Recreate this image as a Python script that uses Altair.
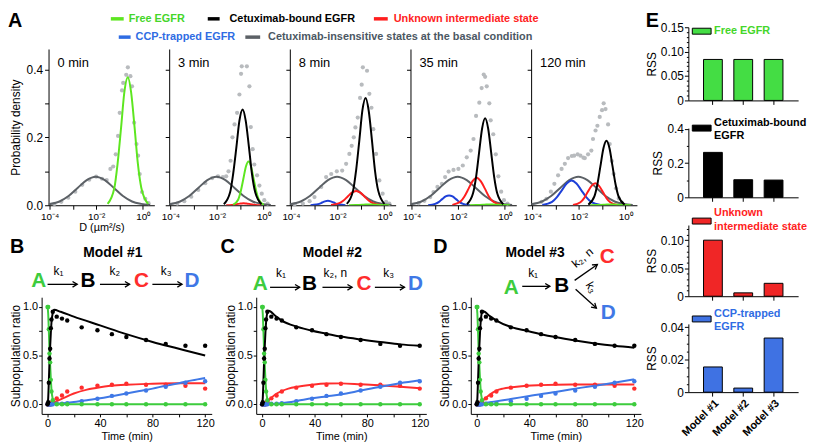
import altair as alt
import pandas as pd

FONT = "Liberation Sans"
DUMMY = pd.DataFrame({"d": [0]})

# ---------------- colours ----------------
A_COL = {"grey": "#5c6166", "blue": "#1e40d8", "red": "#ff1e1e", "green": "#5de620", "black": "#000000"}
PT_GREY = "#b8bbbe"
K_COL = {"green": "#3dcc3d", "black": "#000000", "red": "#ff2d2d", "blue": "#3f78e6"}
TXT_GREEN = "#45d62a"
TXT_RED = "#ff2222"
TXT_BLUE = "#2f6ce3"
TXT_GREY = "#4b5763"
E_GREEN = "#44dd44"
E_RED = "#f02626"
E_BLUE = "#3f72e3"

# ---------------- Panel A data (x = log10 D, y = probability density) ----------------
A_TITLES = ["0 min", "3 min", "8 min", "35 min", "120 min"]

GREY_X = [-4.05, -3.58, -3.19, -2.80, -2.41, -2.02, -1.63, -1.24, -0.85, -0.46, -0.07, 0.32]
GREY_Y = [0.003, 0.011, 0.027, 0.051, 0.074, 0.084, 0.074, 0.051, 0.027, 0.011, 0.004, 0.001]

G0_X = [-1.51, -1.22, -1.08, -0.93, -0.79, -0.64, -0.50, -0.35, -0.21, -0.06, 0.23]
G0_Y = [0.004, 0.051, 0.123, 0.229, 0.333, 0.377, 0.333, 0.229, 0.123, 0.051, 0.004]
GFLAT_Y = [0.0, 0.0005, 0.001, 0.0015, 0.002, 0.002, 0.002, 0.0015, 0.001, 0.0005, 0.0]

B1_X = [-1.70, -1.43, -1.30, -1.16, -1.03, -0.89, -0.76, -0.62, -0.49, -0.35, -0.08]
B1_Y = [0.003, 0.038, 0.092, 0.171, 0.249, 0.282, 0.249, 0.171, 0.092, 0.038, 0.003]
G1_X = [-1.30, -1.08, -0.97, -0.86, -0.75, -0.64, -0.53, -0.42, -0.31, -0.20, 0.02]
G1_Y = [0.001, 0.017, 0.042, 0.078, 0.114, 0.129, 0.114, 0.078, 0.042, 0.017, 0.001]
R1_X = [-1.60, -1.35, -1.23, -1.10, -0.98, -0.85, -0.73, -0.60, -0.48, -0.35, -0.10]
R1_Y = [0.0, 0.001, 0.002, 0.004, 0.005, 0.006, 0.005, 0.004, 0.002, 0.001, 0.0]

B2_X = [-1.60, -1.33, -1.20, -1.06, -0.93, -0.79, -0.66, -0.52, -0.39, -0.25, 0.02]
B2_Y = [0.004, 0.043, 0.103, 0.192, 0.279, 0.316, 0.279, 0.192, 0.103, 0.043, 0.004]
R2_X = [-2.28, -1.92, -1.74, -1.56, -1.38, -1.20, -1.02, -0.84, -0.66, -0.48, -0.12]
R2_Y = [0.001, 0.006, 0.014, 0.026, 0.037, 0.042, 0.037, 0.026, 0.014, 0.006, 0.001]
U2_X = [-3.16, -2.91, -2.79, -2.66, -2.54, -2.41, -2.29, -2.16, -2.04, -1.91, -1.66]
U2_Y = [0.0, 0.002, 0.004, 0.008, 0.0115, 0.013, 0.0115, 0.008, 0.004, 0.002, 0.0]

B3_X = [-1.62, -1.36, -1.23, -1.10, -0.97, -0.84, -0.71, -0.58, -0.45, -0.32, -0.06]
B3_Y = [0.003, 0.035, 0.083, 0.155, 0.226, 0.256, 0.226, 0.155, 0.083, 0.035, 0.003]
R3_X = [-2.25, -1.90, -1.73, -1.55, -1.38, -1.20, -1.03, -0.85, -0.68, -0.50, -0.15]
R3_Y = [0.001, 0.011, 0.026, 0.049, 0.071, 0.081, 0.071, 0.049, 0.026, 0.011, 0.001]
U3_X = [-3.29, -2.99, -2.84, -2.69, -2.54, -2.39, -2.24, -2.09, -1.94, -1.79, -1.49]
U3_Y = [0.0, 0.004, 0.009, 0.018, 0.026, 0.029, 0.026, 0.018, 0.009, 0.004, 0.0]

B4_X = [-1.59, -1.33, -1.20, -1.07, -0.94, -0.81, -0.68, -0.55, -0.42, -0.29, -0.03]
B4_Y = [0.002, 0.026, 0.062, 0.115, 0.168, 0.190, 0.168, 0.115, 0.062, 0.026, 0.002]
R4_X = [-2.25, -1.93, -1.77, -1.61, -1.45, -1.29, -1.13, -0.97, -0.81, -0.65, -0.33]
R4_Y = [0.001, 0.009, 0.021, 0.040, 0.057, 0.065, 0.057, 0.040, 0.021, 0.009, 0.001]
U4_X = [-3.57, -3.15, -2.94, -2.73, -2.52, -2.31, -2.10, -1.89, -1.68, -1.47, -1.05]
U4_Y = [0.001, 0.010, 0.024, 0.044, 0.064, 0.073, 0.064, 0.044, 0.024, 0.010, 0.001]

A_CURVES = [
    {"grey": (GREY_X, GREY_Y), "green": (G0_X, G0_Y)},
    {"grey": (GREY_X, GREY_Y), "red": (R1_X, R1_Y), "green": (G1_X, G1_Y), "black": (B1_X, B1_Y)},
    {"grey": (GREY_X, GREY_Y), "blue": (U2_X, U2_Y), "red": (R2_X, R2_Y), "green": (G0_X, GFLAT_Y), "black": (B2_X, B2_Y)},
    {"grey": (GREY_X, GREY_Y), "blue": (U3_X, U3_Y), "red": (R3_X, R3_Y), "green": (G0_X, GFLAT_Y), "black": (B3_X, B3_Y)},
    {"grey": (GREY_X, GREY_Y), "blue": (U4_X, U4_Y), "red": (R4_X, R4_Y), "green": (G0_X, GFLAT_Y), "black": (B4_X, B4_Y)},
]

P0_X = [-3.8, -3.5, -3.2, -2.9, -2.6, -2.3, -2.0, -1.75, -1.55, -1.39, -1.27, -1.16, -1.06, -0.99, -0.89, -0.84, -0.71, -0.64, -0.53, -0.46, -0.37, -0.27, -0.2, -0.13, -0.03, 0.11, 0.25]
P0_Y = [0.004, 0.010, 0.022, 0.040, 0.060, 0.075, 0.084, 0.078, 0.074, 0.107, 0.114, 0.15, 0.204, 0.272, 0.338, 0.36, 0.384, 0.406, 0.38, 0.35, 0.243, 0.18, 0.146, 0.092, 0.039, 0.019, 0.006]
P1_X = [-3.7, -3.4, -3.1, -2.8, -2.5, -2.2, -1.95, -1.74, -1.6, -1.5, -1.41, -1.33, -1.24, -1.13, -1.03, -0.96, -0.93, -0.71, -0.6, -0.54, -0.46, -0.39, -0.27, -0.17, -0.07, 0.04, 0.18]
P1_Y = [0.005, 0.012, 0.025, 0.045, 0.065, 0.08, 0.085, 0.083, 0.085, 0.1, 0.131, 0.2, 0.238, 0.272, 0.326, 0.387, 0.409, 0.409, 0.35, 0.23, 0.165, 0.12, 0.088, 0.058, 0.034, 0.015, 0.005]
P2_X = [-3.84, -3.49, -3.2, -2.99, -2.7, -2.49, -2.27, -2.03, -1.8, -1.63, -1.49, -1.39, -1.3, -1.23, -1.13, -1.03, -0.96, -0.91, -0.73, -0.63, -0.54, -0.46, -0.34, -0.2, -0.06, 0.09, 0.23]
P2_Y = [0.003, 0.005, 0.012, 0.024, 0.054, 0.083, 0.092, 0.1, 0.102, 0.122, 0.151, 0.175, 0.2, 0.229, 0.258, 0.316, 0.355, 0.406, 0.396, 0.328, 0.287, 0.224, 0.151, 0.073, 0.034, 0.01, 0.005]
P3_X = [-3.7, -3.45, -3.2, -3.06, -2.89, -2.7, -2.56, -2.41, -2.2, -1.99, -1.8, -1.63, -1.46, -1.34, -1.23, -1.09, -0.99, -0.9, -0.84, -0.77, -0.66, -0.6, -0.49, -0.38, -0.27, -0.15, -0.03, 0.12]
P3_Y = [0.006, 0.013, 0.024, 0.039, 0.054, 0.063, 0.083, 0.099, 0.104, 0.107, 0.117, 0.141, 0.161, 0.195, 0.263, 0.302, 0.345, 0.385, 0.378, 0.35, 0.3, 0.25, 0.209, 0.15, 0.085, 0.04, 0.015, 0.005]
P4_X = [-3.6, -3.39, -3.2, -3.05, -2.89, -2.74, -2.6, -2.46, -2.3, -2.2, -2.05, -1.93, -1.8, -1.74, -1.6, -1.46, -1.39, -1.28, -1.2, -1.1, -1.0, -0.93, -0.85, -0.74, -0.67, -0.58, -0.5, -0.4, -0.28, -0.15]
P4_Y = [0.01, 0.019, 0.04, 0.063, 0.088, 0.107, 0.122, 0.139, 0.145, 0.146, 0.15, 0.146, 0.14, 0.139, 0.15, 0.161, 0.195, 0.22, 0.234, 0.26, 0.28, 0.3, 0.283, 0.238, 0.18, 0.13, 0.092, 0.05, 0.02, 0.008]
A_PTS = [(P0_X, P0_Y), (P1_X, P1_Y), (P2_X, P2_Y), (P3_X, P3_Y), (P4_X, P4_Y)]

# ---------------- Panels B-D data ----------------
T_PTS = [0, 0.5, 1, 1.5, 2, 2.5, 3, 4, 7, 11, 15, 26, 38, 49, 60, 75, 90, 105, 120]
GREEN_PTS = [1.0, 1.0, 0.77, 0.52, 0.43, 0.25, 0.13, 0.04, 0.0, 0.0, 0, 0, 0, 0, 0, 0, 0, 0, 0]
BLACK_PTS = [0.0, 0.02, 0.22, 0.47, 0.57, 0.78, 0.87, 0.95, 0.90, 0.88, 0.86, 0.79, 0.76, 0.72, 0.69, 0.66, 0.62, 0.60, 0.60]
RED_PTS = [0, 0, 0, 0, 0, 0, 0.01, 0.03, 0.06, 0.09, 0.13, 0.17, 0.19, 0.20, 0.21, 0.20, 0.20, 0.19, 0.16]
BLUE_PTS = [0, 0, 0, 0, 0, 0, 0, 0, 0.005, 0.005, 0.01, 0.03, 0.055, 0.085, 0.11, 0.14, 0.18, 0.22, 0.235]

GREEN_FIT_T = [0, 0.5, 1, 1.5, 2, 2.5, 3, 4, 5, 8, 120]
GREEN_FIT_Y = [1.0, 0.93, 0.75, 0.55, 0.40, 0.26, 0.15, 0.05, 0.015, 0.0, 0.0]

M1_BLACK_T = [0, 0.5, 1, 1.5, 2, 2.5, 3, 4, 5, 10, 20, 40, 60, 80, 100, 120]
M1_BLACK_Y = [0, 0.06, 0.24, 0.44, 0.59, 0.73, 0.84, 0.94, 0.97, 0.95, 0.90, 0.81, 0.72, 0.64, 0.57, 0.50]
M1_RED_T = [0, 3, 10, 20, 30, 40, 60, 80, 100, 120]
M1_RED_Y = [0, 0.01, 0.05, 0.11, 0.15, 0.175, 0.20, 0.21, 0.215, 0.215]
M1_BLUE_T = [0, 5, 10, 20, 30, 40, 50, 60, 70, 80, 90, 100, 110, 120]
M1_BLUE_Y = [0, 0.002, 0.008, 0.022, 0.04, 0.06, 0.085, 0.11, 0.135, 0.16, 0.19, 0.215, 0.245, 0.27]

M2_BLACK_T = [0, 0.5, 1, 1.5, 2, 2.5, 3, 4, 5, 10, 15, 27, 38, 49, 60, 75, 90, 105, 120]
M2_BLACK_Y = [0, 0.06, 0.24, 0.44, 0.59, 0.73, 0.84, 0.94, 0.96, 0.91, 0.86, 0.795, 0.755, 0.725, 0.695, 0.665, 0.64, 0.615, 0.60]
M2_RED_T = [0, 2, 5, 10, 15, 20, 27, 38, 49, 60, 75, 90, 105, 120]
M2_RED_Y = [0, 0.005, 0.04, 0.10, 0.135, 0.16, 0.18, 0.20, 0.212, 0.214, 0.205, 0.195, 0.18, 0.165]
M2_BLUE_T = [0, 10, 20, 27, 38, 49, 60, 75, 90, 105, 120]
M2_BLUE_Y = [0, 0.005, 0.02, 0.035, 0.06, 0.08, 0.10, 0.14, 0.18, 0.215, 0.245]

M3_BLACK_T = [0, 0.5, 1, 1.5, 2, 2.5, 3, 4, 5, 10, 15, 27, 38, 49, 60, 75, 90, 105, 120]
M3_BLACK_Y = [0, 0.06, 0.24, 0.44, 0.59, 0.73, 0.84, 0.94, 0.955, 0.905, 0.86, 0.79, 0.755, 0.72, 0.69, 0.655, 0.625, 0.60, 0.58]
M3_RED_T = [0, 2, 5, 10, 15, 20, 27, 38, 49, 60, 75, 90, 105, 120]
M3_RED_Y = [0, 0.005, 0.04, 0.10, 0.14, 0.16, 0.175, 0.19, 0.196, 0.20, 0.202, 0.203, 0.203, 0.203]
M3_BLUE_T = [0, 5, 10, 20, 27, 40, 60, 80, 100, 120]
M3_BLUE_Y = [0, 0.01, 0.02, 0.04, 0.055, 0.085, 0.125, 0.17, 0.21, 0.255]

# ---------------- Panel E data ----------------
MODELS = ["Model #1", "Model #2", "Model #3"]
RSS_FREE = [0.084, 0.084, 0.084]
RSS_BOUND = [0.263, 0.103, 0.101]
RSS_UNKNOWN = [0.100, 0.006, 0.023]
RSS_CCP = [0.0155, 0.0025, 0.0333]


# ---------------- helpers ----------------
def txt(s, x, y, size=12, weight="normal", color="black", align="center", baseline="middle", angle=None):
    kw = dict(text=s, fontSize=size, fontWeight=weight, color=color, align=align,
              baseline=baseline, font=FONT)
    if angle is not None:
        kw["angle"] = angle
    return alt.Chart(DUMMY).mark_text(**kw).encode(x=alt.value(x), y=alt.value(y))


def seg(x1, y1, x2, y2, color="black", width=1.3):
    return alt.Chart(DUMMY).mark_rule(color=color, strokeWidth=width).encode(
        x=alt.value(x1), y=alt.value(y1), x2=alt.value(x2), y2=alt.value(y2))


def head(x, y, angle=0):
    kw = dict(shape="M-1,-0.6L0,0L-1,0.6", filled=False, color="black", strokeWidth=1.3,
              size=90, opacity=1)
    if angle:
        kw["angle"] = angle
    return alt.Chart(DUMMY).mark_point(**kw).encode(x=alt.value(x), y=alt.value(y))


def arrow(x1, y1, x2, y2, angle=0):
    return [seg(x1, y1, x2, y2), head(x2, y2, angle)]


def box(x1, x2, y1, y2, fill):
    return alt.Chart(DUMMY).mark_rect(fill=fill, stroke="black", strokeWidth=1).encode(
        x=alt.value(x1), x2=alt.value(x2), y=alt.value(y1), y2=alt.value(y2))


def frame(x1, x2, y1, y2):
    # invisible cell box that fixes the layout extent of a panel
    return alt.Chart(DUMMY).mark_rect(opacity=0).encode(
        x=alt.value(x1), x2=alt.value(x2), y=alt.value(y1), y2=alt.value(y2))


def spacer():
    return alt.layer(frame(0, 1, 0, 1)).properties(width=1, height=1)


# ---------------- Legend strip (top of panel A) ----------------
LEG = alt.layer(
    frame(0, 600, -17, 22),
    txt("A", 0, -16, 20, "bold", align="left", baseline="top"),
    seg(104, -8.5, 117, -8.5, A_COL["green"], 3.5),
    txt("Free EGFR", 122, -8.5, 11, "bold", TXT_GREEN, "left"),
    seg(202, -8.5, 214, -8.5, "black", 3.5),
    txt("Cetuximab-bound EGFR", 224, -8.5, 11, "bold", "black", "left"),
    seg(370, -8.5, 384, -8.5, A_COL["red"], 3.5),
    txt("Unknown intermediate state", 390, -8.5, 11, "bold", TXT_RED, "left"),
    seg(112, 10, 124, 10, TXT_BLUE, 3.5),
    txt("CCP-trapped EGFR", 129, 10, 11, "bold", TXT_BLUE, "left"),
    seg(240, 10, 255, 10, A_COL["grey"], 3.5),
    txt("Cetuximab-insensitive states at the basal condition", 263, 10, 11, "bold", TXT_GREY, "left"),
).properties(width=600, height=22)


# ---------------- Panel A ----------------
def a_panel(i):
    first = i == 0
    xs = alt.Scale(domain=[-4.05, 0.5], nice=False, zero=False)
    ys = alt.Scale(domain=[0, 0.46], nice=False, zero=False)
    xax = alt.Axis(values=[-4, -3, -2, -1, 0],
                   labelExpr="datum.value == -4 ? '10⁻⁴' : datum.value == -2 ? '10⁻²' : datum.value == 0 ? '10⁰' : ''",
                   title="D (µm²/s)" if first else "", labelFontSize=10, tickSize=4,
                   labelPadding=2, titlePadding=1, titleFontSize=11, labelFlush=False,
                   labelOverlap=False)
    if first:
        yax = alt.Axis(values=[0, 0.1, 0.2, 0.3, 0.4],
                       labelExpr="round(datum.value * 10) % 2 == 0 ? format(datum.value, '.1f') : ''",
                       title="Probability density", tickSize=4, labelPadding=2, titlePadding=3.5,
                       labelOverlap=False, labelFontSize=12, titleFontSize=12)
    else:
        yax = alt.Axis(values=[0, 0.1, 0.2, 0.3, 0.4], labels=False, title="", tickSize=4)
    enc = dict(x=alt.X("x:Q", scale=xs, axis=xax), y=alt.Y("y:Q", scale=ys, axis=yax))
    px, py = A_PTS[i]
    layers = [frame(-39 if first else -7, 113, 0, 189),
              alt.Chart(pd.DataFrame({"x": px, "y": py})).mark_circle(
                  size=18, color=PT_GREY, opacity=1).encode(**enc)]
    for comp in ["grey", "blue", "red", "green", "black"]:
        if comp in A_CURVES[i]:
            cx, cy = A_CURVES[i][comp]
            layers.append(alt.Chart(pd.DataFrame({"x": cx, "y": cy})).mark_line(
                color=A_COL[comp], strokeWidth=2, interpolate="monotone", clip=True).encode(**enc))
    layers.append(txt(A_TITLES[i], 9, 14, size=13, align="left"))
    return alt.layer(*layers).properties(width=107, height=158)


# ---------------- Panels B-D ----------------
def k_panel(fits, extras):
    xs = alt.Scale(domain=[-4.5, 125], nice=False, zero=False)
    ys = alt.Scale(domain=[-0.1, 1.1], nice=False, zero=False)
    xax = alt.Axis(values=[0, 20, 40, 60, 80, 100, 120],
                   labelExpr="datum.value % 40 == 0 ? datum.label : ''",
                   title="Time (min)", tickSize=3, labelPadding=1, titlePadding=2,
                   labelFlush=False, labelOverlap=False, labelFontSize=11, titleFontSize=11)
    yax = alt.Axis(values=[0, 0.25, 0.5, 0.75, 1.0],
                   labelExpr="datum.value % 0.5 == 0 ? format(datum.value, '.1f') : ''",
                   title="Subpopulation ratio", tickSize=3, labelPadding=1, titlePadding=0,
                   labelOverlap=False, labelFlush=False, labelFontSize=11, titleFontSize=12)
    enc = dict(x=alt.X("t:Q", scale=xs, axis=xax), y=alt.Y("v:Q", scale=ys, axis=yax))
    layers = []
    for comp in ["red", "blue", "green", "black"]:
        ft, fv = fits[comp]
        layers.append(alt.Chart(pd.DataFrame({"t": ft, "v": fv})).mark_line(
            color=K_COL[comp], strokeWidth=2, interpolate="monotone").encode(**enc))
    pts = {"green": GREEN_PTS, "black": BLACK_PTS, "red": RED_PTS, "blue": BLUE_PTS}
    for comp in ["red", "blue", "green", "black"]:
        layers.append(alt.Chart(pd.DataFrame({"t": T_PTS, "v": pts[comp]})).mark_circle(
            size=20, color=K_COL[comp], opacity=1).encode(**enc))
    layers += extras
    return alt.layer(*layers).properties(width=172, height=118)


def chain(xs_letters, xs_arrows, k_labels, ly, ay, ky):
    out = []
    cols = [K_COL["green"], "black", K_COL["red"], K_COL["blue"]]
    for s, x, c in zip("ABCD", xs_letters, cols):
        out.append(txt(s, x, ly, 21, "bold", c))
    for (a1, a2) in xs_arrows:
        out += arrow(a1, ay, a2, ay)
    for s, x in k_labels:
        out.append(txt(s, x, ky, 12))
    return out


B_EXTRAS = [frame(-32, 181, -62, 148),
            txt("B", -32, -61, 20, "bold", align="left", baseline="top"),
            txt("Model #1", 72, -45, 14, "bold")] + chain(
    [-3, 47, 101, 152], [(6, 36), (59, 89), (112, 142)],
    [("k₁", 17), ("k₂", 74), ("k₃", 126)], -16, -13, -26)

C_EXTRAS = [frame(-36, 179, -62, 148),
            txt("C", -36, -61, 20, "bold", align="left", baseline="top"),
            txt("Model #2", 77, -45, 14, "bold")] + chain(
    [4, 54, 109, 161], [(14, 44), (67, 97), (120, 150)],
    [("k₁", 25), ("k₂, n", 80), ("k₃", 134)], -13, -10, -24)

D_EXTRAS = [frame(-38, 175, -62, 148),
            txt("D", -38, -61, 20, "bold", align="left", baseline="top"),
            txt("Model #3", 65, -45, 14, "bold"),
            txt("A", 41, -9, 21, "bold", K_COL["green"]),
            txt("k₁", 63, -24, 12),
            txt("B", 92, -11, 21, "bold"),
            txt("C", 138, -41, 21, "bold", K_COL["red"]),
            txt("k₂, n", 113, -40, 12, angle=320),
            txt("D", 139, 16, 21, "bold", K_COL["blue"]),
            txt("k₃", 122, -10, 12, angle=60)] + arrow(52, -11, 80, -11) + arrow(
    105, -17, 128, -33, 325) + arrow(106, -8, 127, 11, 42)

FITS_1 = {"green": (GREEN_FIT_T, GREEN_FIT_Y), "black": (M1_BLACK_T, M1_BLACK_Y),
          "red": (M1_RED_T, M1_RED_Y), "blue": (M1_BLUE_T, M1_BLUE_Y)}
FITS_2 = {"green": (GREEN_FIT_T, GREEN_FIT_Y), "black": (M2_BLACK_T, M2_BLACK_Y),
          "red": (M2_RED_T, M2_RED_Y), "blue": (M2_BLUE_T, M2_BLUE_Y)}
FITS_3 = {"green": (GREEN_FIT_T, GREEN_FIT_Y), "black": (M3_BLACK_T, M3_BLACK_Y),
          "red": (M3_RED_T, M3_RED_Y), "blue": (M3_BLUE_T, M3_BLUE_Y)}


# ---------------- Panel E ----------------
def e_panel(vals, fill, dmax, h, major, minor, fmt, extras, last):
    n = int(round(dmax / minor + 1e-9))
    ticks = [round(j * minor, 4) for j in range(n + 1)]
    test = f"abs(datum.value / {major} - round(datum.value / {major})) < 1e-6"
    xs = alt.Scale(domain=MODELS, paddingInner=0.38, paddingOuter=0.5)
    ys = alt.Scale(domain=[0, dmax], nice=False, zero=True)
    xax = alt.Axis(title="", labels=last, labelAngle=315, labelFontSize=11,
                   labelFontWeight="bold", tickSize=4, labelPadding=1)
    yax = alt.Axis(values=ticks, title="RSS", titleFontSize=12, labelFontSize=12,
                   labelExpr=f"{test} ? (datum.value == 0 ? '0' : format(datum.value, '{fmt}')) : ''",
                   tickSize={"condition": {"test": test, "value": 4}, "value": 2},
                   labelPadding=1, titlePadding=2, labelOverlap=False, labelFlush=False)
    bars = alt.Chart(pd.DataFrame({"m": MODELS, "v": vals})).mark_bar(
        color=fill, stroke="black", strokeWidth=1).encode(
        x=alt.X("m:N", scale=xs, axis=xax, sort=MODELS),
        y=alt.Y("v:Q", scale=ys, axis=yax))
    return alt.layer(bars, *extras).properties(width=111, height=h)


E1 = e_panel(RSS_FREE, E_GREEN, 0.15, 74, 0.05, 0.01, ".2f",
             [frame(-45, 122, -17, 85),
              txt("E", -43, -16, 20, "bold", align="left", baseline="top"),
              box(4, 23, 1, 7, E_GREEN),
              txt("Free EGFR", 26, 4, 11, "bold", TXT_GREEN, "left")], False)
E2 = e_panel(RSS_BOUND, "#000000", 0.405, 70, 0.2, 0.1, ".1f",
             [frame(-45, 122, -17, 78),
              box(4, 23, -3, 3, "#000000"),
              txt("Cetuximab-bound", 26, -5, 11, "bold", "black", "left"),
              txt("EGFR", 26, 8, 11, "bold", "black", "left")], False)
E3 = e_panel(RSS_UNKNOWN, E_RED, 0.127, 72, 0.05, 0.01, ".2f",
             [frame(-45, 122, -20, 82),
              box(4, 23, -7, -1, E_RED),
              txt("Unknown", 26, -12, 11, "bold", TXT_RED, "left"),
              txt("intermediate state", 26, 2, 11, "bold", TXT_RED, "left")], False)
E4 = e_panel(RSS_CCP, E_BLUE, 0.042, 69, 0.02, 0.005, ".2f",
             [frame(-45, 122, -18, 121),
              box(4, 23, -8, -2, E_BLUE),
              txt("CCP-trapped", 26, -10, 11, "bold", TXT_BLUE, "left"),
              txt("EGFR", 26, 3, 11, "bold", TXT_BLUE, "left")], True)

# ---------------- layout ----------------
row_a = alt.hconcat(spacer(), *[a_panel(i) for i in range(5)], spacing=0)
row_k = alt.hconcat(spacer(), k_panel(FITS_1, B_EXTRAS), k_panel(FITS_2, C_EXTRAS),
                    k_panel(FITS_3, D_EXTRAS), spacing=0)
left = alt.vconcat(LEG, row_a, row_k, spacing=0)
right = alt.vconcat(E1, E2, E3, E4, spacing=0)

chart = alt.hconcat(left, right, spacing=0, padding=0).configure_axis(
    labelFont=FONT, titleFont=FONT, labelColor="black", titleColor="black",
    domainColor="black", tickColor="black", grid=False, titleFontWeight="normal",
    domainWidth=1, tickWidth=1
).configure_view(strokeOpacity=0)

chart.save("out.html", embed_options={"renderer": "svg", "actions": False})
